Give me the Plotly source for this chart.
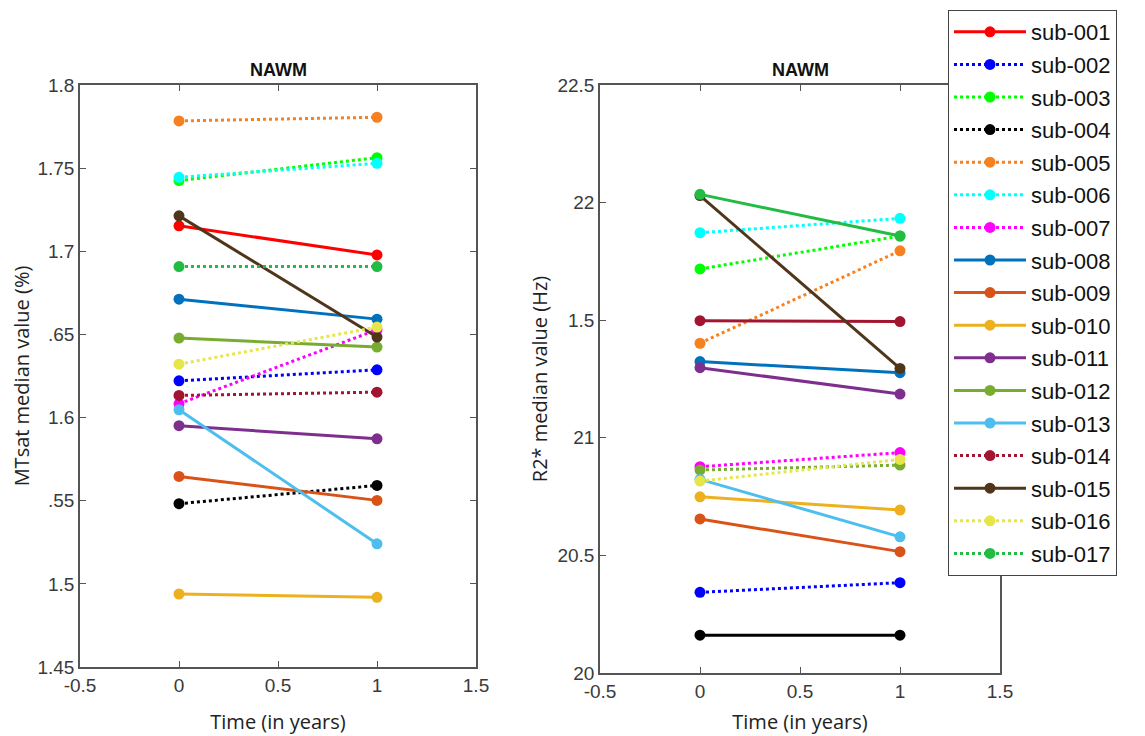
import plotly.graph_objects as go

subjects = ["sub-001", "sub-002", "sub-003", "sub-004", "sub-005", "sub-006", "sub-007", "sub-008",
            "sub-009", "sub-010", "sub-011", "sub-012", "sub-013", "sub-014", "sub-015", "sub-016", "sub-017"]
times = [0, 1]

colors = ["#ff0000", "#0000ff", "#00ff00", "#000000", "#f7801f", "#00ffff", "#ff00ff", "#0072bd",
          "#d95319", "#edb120", "#7e2f8e", "#77ac30", "#4dbeee", "#a2142f", "#4f361a", "#e6e64a", "#22bb44"]
dash_left = ["solid", "dot", "dot", "dot", "dot", "dot", "dot", "solid",
             "solid", "solid", "solid", "solid", "solid", "dot", "solid", "dot", "dot"]
dash_right = ["solid", "dot", "dot", "solid", "dot", "dot", "dot", "solid",
              "solid", "solid", "solid", "dot", "solid", "solid", "solid", "dot", "solid"]

# MTsat median values (time 0, time 1)
mtsat_t0 = [1.7153, 1.6221, 1.7425, 1.5482, 1.7784, 1.7445, 1.6083, 1.6712,
            1.5646, 1.4939, 1.5951, 1.6478, 1.6047, 1.6133, 1.7213, 1.6321, 1.6908]
mtsat_t1 = [1.6978, 1.6287, 1.7563, 1.5592, 1.7806, 1.7529, 1.6528, 1.6592,
            1.5502, 1.4919, 1.5872, 1.6424, 1.5241, 1.6153, 1.6484, 1.6544, 1.6908]

# R2* median values (time 0, time 1); sub-001 not visible in the right panel
r2_t0 = [None, 20.343, 21.718, 20.161, 21.402, 21.872, 20.877, 21.324,
         20.655, 20.749, 21.298, 20.863, 20.823, 21.498, 22.030, 20.816, 22.035]
r2_t1 = [None, 20.384, 21.858, 20.161, 21.795, 21.933, 20.937, 21.277,
         20.516, 20.693, 21.186, 20.884, 20.579, 21.494, 21.295, 20.908, 21.858]

left_tickvals = [1.45, 1.5, 1.55, 1.6, 1.65, 1.7, 1.75, 1.8]
left_ticktext = ["1.45", "1.5", ".55", "1.6", ".65", "1.7", "1.75", "1.8"]
right_tickvals = [20, 20.5, 21, 21.5, 22, 22.5]
right_ticktext = ["20", "20.5", "21", "1.5", "22", "22.5"]
x_tickvals = [-0.5, 0, 0.5, 1, 1.5]
x_ticktext = ["-0.5", "0", "0.5", "1", "1.5"]

fig = go.Figure()

for i, s in enumerate(subjects):
    fig.add_trace(go.Scatter(
        x=times, y=[mtsat_t0[i], mtsat_t1[i]], mode="lines+markers", name=s,
        line=dict(color=colors[i], width=3, dash=dash_left[i]),
        marker=dict(color=colors[i], size=11, symbol="circle"),
        xaxis="x", yaxis="y", legendgroup=s, showlegend=True))

for i, s in enumerate(subjects):
    if r2_t0[i] is None:
        continue
    fig.add_trace(go.Scatter(
        x=times, y=[r2_t0[i], r2_t1[i]], mode="lines+markers", name=s,
        line=dict(color=colors[i], width=3, dash=dash_right[i]),
        marker=dict(color=colors[i], size=11, symbol="circle"),
        xaxis="x2", yaxis="y2", legendgroup=s, showlegend=False))

W, H = 1145, 736
OFF = 8  # page body margin

def px(x):
    return (x - OFF) / W

def py(y):
    return 1 - (y - OFF) / H

axis_common = dict(showline=True, linecolor="#555555", linewidth=1.5, mirror="allticks",
                   ticks="inside", ticklen=6, tickcolor="#555555", showgrid=False, zeroline=False,
                   automargin=False,
                   tickfont=dict(family="Liberation Sans, Arial", size=19, color="#3a3a3a"))
title_font = dict(family="Open Sans, Liberation Sans", size=20, color="#222")

fig.update_layout(
    width=W, height=H,
    margin=dict(l=0, r=0, t=0, b=0),
    paper_bgcolor="white", plot_bgcolor="white",
    showlegend=True,
    xaxis=dict(domain=[px(80), px(476)], range=[-0.5, 1.5], tickvals=x_tickvals, ticktext=x_ticktext,
               title=dict(text="Time (in years)", font=title_font, standoff=20),
               anchor="y", **axis_common),
    yaxis=dict(domain=[py(667), py(85)], range=[1.45, 1.8], tickvals=left_tickvals, ticktext=left_ticktext,
               title=dict(text="MTsat median value (%)", font=title_font, standoff=6),
               anchor="x", **axis_common),
    xaxis2=dict(domain=[px(600), px(1000)], range=[-0.5, 1.5], tickvals=x_tickvals, ticktext=x_ticktext,
                title=dict(text="Time (in years)", font=title_font, standoff=14),
                anchor="y2", **axis_common),
    yaxis2=dict(domain=[py(673), py(85)], range=[20, 22.5], tickvals=right_tickvals, ticktext=right_ticktext,
                title=dict(text="R2* median value (Hz)", font=title_font, standoff=4),
                anchor="x2", **axis_common),
    legend=dict(x=px(948), y=py(10), xanchor="left", yanchor="top",
                bgcolor="white", bordercolor="#444444", borderwidth=1,
                font=dict(family="Liberation Sans, Arial", size=22, color="#111"),
                itemwidth=72, tracegroupgap=1),
    annotations=[
        dict(text="<b>NAWM</b>", x=px((80 + 476) / 2), y=py(70), xref="paper", yref="paper",
             xanchor="center", yanchor="middle",
             showarrow=False, font=dict(family="Liberation Sans, Arial", size=18, color="#111")),
        dict(text="<b>NAWM</b>", x=px((600 + 1000) / 2), y=py(70), xref="paper", yref="paper",
             xanchor="center", yanchor="middle",
             showarrow=False, font=dict(family="Liberation Sans, Arial", size=18, color="#111")),
    ],
)

fig.write_html("out.html")
